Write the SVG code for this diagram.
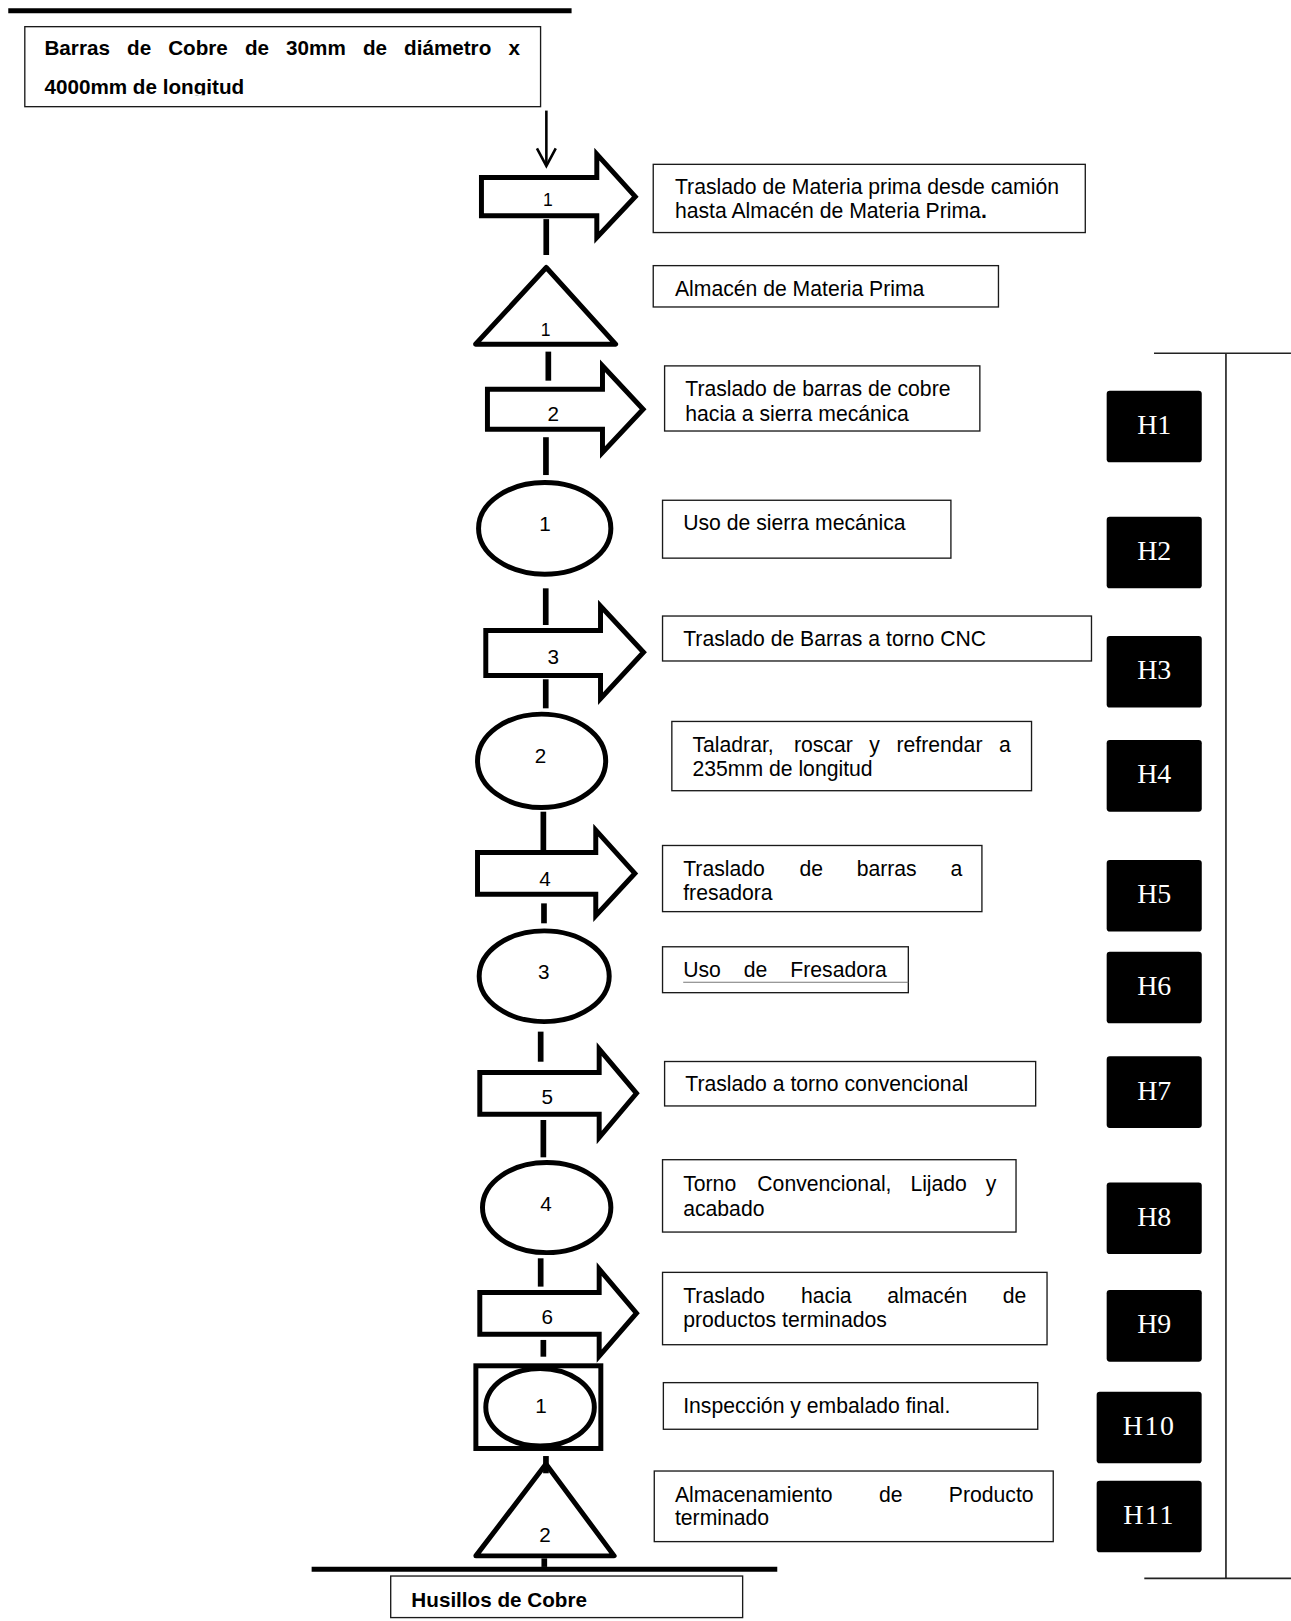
<svg xmlns="http://www.w3.org/2000/svg" width="1291" height="1621" viewBox="0 0 1291 1621">
  <style>
    .box{fill:#fff;stroke:#1a1a1a;stroke-width:1.3}
    .t{font-family:"Liberation Sans",Arial,sans-serif;font-size:20.5px;fill:#000}
    .b{font-weight:bold}
    .tb{font-family:"Liberation Sans",Arial,sans-serif;font-size:20px;font-weight:bold;fill:#000}
    .shape{fill:#fff;stroke:#000;stroke-width:4.8;stroke-linejoin:miter}
    .tri{fill:#fff;stroke:#000;stroke-width:4.8;stroke-linejoin:round}
    .num{font-family:"Liberation Sans",Arial,sans-serif;font-size:20px;text-anchor:middle;fill:#000}
    .sm{font-size:17px}
    .conn line{stroke:#000;stroke-width:5.5}
    .bar{stroke:#000;stroke-width:4.8}
    .bracket{stroke:#222;stroke-width:1.6}
    .h rect{fill:#000}
    .h text{font-family:"Liberation Serif","Times New Roman",serif;font-size:27px;fill:#fff;text-anchor:middle}
  </style>
  <defs>
    <clipPath id="titleClip"><rect x="24" y="25.8" width="499" height="66.4"/></clipPath>
  </defs>
  <rect width="1291" height="1621" fill="#fff"/>
  <g transform="scale(1.0336)">
    <!-- heavy horizontal bars -->
    <line class="bar" x1="8" y1="10.5" x2="553" y2="10.5"/>
    <line class="bar" x1="301.5" y1="1518.3" x2="752" y2="1518.3"/>

    <!-- input material box -->
    <g id="input">
      <rect class="box" x="24" y="25.8" width="499" height="77.4"/>
      <g clip-path="url(#titleClip)">
        <text class="tb" y="53.2"><tspan x="43">Barras</tspan><tspan x="122.9">de</tspan><tspan x="162.7">Cobre</tspan><tspan x="237">de</tspan><tspan x="276.8">30mm</tspan><tspan x="351.1">de</tspan><tspan x="390.9">diámetro</tspan><tspan x="491.9">x</tspan></text>
        <text class="tb" x="43" y="90.8">4000mm de longitud</text>
      </g>
    </g>

    <!-- process symbols -->
    <g id="arrow1"><path class="shape" d="M465.8,171.7 H577.4 V149.1 L614.6,190.3 L577.4,229.8 V208.8 H465.8 Z"/><text class="num sm" x="530" y="199.5">1</text></g>
    <g id="store1"><path class="tri" d="M528.5,258.8 L595.6,333 L460.1,333 Z"/><text class="num sm" x="528" y="325.5">1</text></g>
    <g id="arrow2"><path class="shape" d="M471.6,376.5 H582.9 V353.9 L622.2,396 L582.9,437.8 V415.2 H471.6 Z"/><text class="num" x="535.3" y="407">2</text></g>
    <g id="op1"><ellipse class="shape" cx="527" cy="511.2" rx="64" ry="44.3"/><text class="num" x="527.3" y="513.5">1</text></g>
    <g id="arrow3"><path class="shape" d="M470,610 H581 V586.4 L622.6,631 L581,676 V653.6 H470 Z"/><text class="num" x="535.3" y="642">3</text></g>
    <g id="op2"><ellipse class="shape" cx="524" cy="736.1" rx="62" ry="45.2"/><text class="num" x="523" y="738">2</text></g>
    <g id="arrow4"><path class="shape" d="M462,824.8 H576.4 V803.1 L614.2,845 L576.4,886 V865.1 H462 Z"/><text class="num" x="527.3" y="857">4</text></g>
    <g id="op3"><ellipse class="shape" cx="526.5" cy="944.5" rx="62.9" ry="43.9"/><text class="num" x="526" y="947.5">3</text></g>
    <g id="arrow5"><path class="shape" d="M464.2,1037.6 H579.7 V1015 L615.8,1057.8 L579.7,1100.5 V1078 H464.2 Z"/><text class="num" x="529.5" y="1068.5">5</text></g>
    <g id="op4"><ellipse class="shape" cx="528.9" cy="1168.3" rx="62.1" ry="43.6"/><text class="num" x="528.2" y="1171.5">4</text></g>
    <g id="arrow6"><path class="shape" d="M464.2,1250.4 H579.7 V1227.8 L615.8,1270.5 L579.7,1312 V1290.8 H464.2 Z"/><text class="num" x="529.5" y="1281">6</text></g>
    <g id="inspect1">
      <rect class="shape" x="460.4" y="1321.4" width="120.9" height="80"/>
      <ellipse class="shape" cx="522.5" cy="1361.5" rx="52.5" ry="37.5"/>
      <text class="num" x="523.4" y="1366.8">1</text>
    </g>
    <g id="store2"><path class="tri" d="M528.2,1416.5 L594.2,1505.3 L460.4,1505.3 Z"/><text class="num" x="527.3" y="1491.5">2</text></g>

    <!-- connectors between symbols -->
    <g id="connectors" class="conn">
      <line x1="528.6" y1="107" x2="528.6" y2="160" style="stroke-width:2.5"/>
      <polyline points="519.5,143.5 528.6,160.5 537.7,143.5" fill="none" stroke="#000" stroke-width="2.5"/>
      <line x1="528.5" y1="212" x2="528.5" y2="246.7"/>
      <line x1="530.5" y1="340.2" x2="530.5" y2="368.3"/>
      <line x1="528.2" y1="423" x2="528.2" y2="459.6"/>
      <line x1="528" y1="569.2" x2="528" y2="604.7"/>
      <line x1="528" y1="657.2" x2="528" y2="685.3"/>
      <line x1="525.7" y1="785.3" x2="525.7" y2="822.4"/>
      <line x1="526.3" y1="874" x2="526.3" y2="893.3"/>
      <line x1="523.1" y1="998.1" x2="523.1" y2="1027.2"/>
      <line x1="525.7" y1="1083.6" x2="525.7" y2="1119.7"/>
      <line x1="523.1" y1="1217.4" x2="523.1" y2="1244.8"/>
      <line x1="525.7" y1="1296.4" x2="525.7" y2="1312.6"/>
      <line x1="528.2" y1="1408.7" x2="528.2" y2="1425.4"/>
      <line x1="526.6" y1="1507.7" x2="526.6" y2="1516"/>
    </g>

    <!-- description boxes -->
    <g id="desc1"><rect class="box" x="632" y="159" width="418" height="66"/>
      <text class="t" x="653" y="188">Traslado de Materia prima desde camión</text>
      <text class="t" x="653" y="211">hasta Almacén de Materia Prima<tspan class="b">.</tspan></text></g>
    <g id="desc2"><rect class="box" x="632" y="257" width="334" height="40"/>
      <text class="t" x="653" y="286">Almacén de Materia Prima</text></g>
    <g id="desc3"><rect class="box" x="643" y="354" width="305" height="63"/>
      <text class="t" x="663" y="383">Traslado de barras de cobre</text>
      <text class="t" x="663" y="407">hacia a sierra mecánica</text></g>
    <g id="desc4"><rect class="box" x="641" y="484" width="279" height="56"/>
      <text class="t" x="661" y="513">Uso de sierra mecánica</text></g>
    <g id="desc5"><rect class="box" x="641" y="596" width="415" height="43.5"/>
      <text class="t" x="661" y="625">Traslado de Barras a torno CNC</text></g>
    <g id="desc6"><rect class="box" x="650" y="698" width="348" height="67"/>
      <text class="t" y="728"><tspan x="670">Taladrar,</tspan><tspan x="768.1">roscar</tspan><tspan x="841.1">y</tspan><tspan x="867.4">refrendar</tspan><tspan x="966.6">a</tspan></text>
      <text class="t" x="670" y="751">235mm de longitud</text></g>
    <g id="desc7"><rect class="box" x="641" y="818" width="309" height="64"/>
      <text class="t" y="848"><tspan x="661">Traslado</tspan><tspan x="773.4">de</tspan><tspan x="828.8">barras</tspan><tspan x="919.6">a</tspan></text>
      <text class="t" x="661" y="871">fresadora</text></g>
    <g id="desc8"><rect class="box" x="641" y="916" width="237.8" height="44.4"/>
      <text class="t" y="945.5"><tspan x="661">Uso</tspan><tspan x="719.6">de</tspan><tspan x="764.6">Fresadora</tspan></text>
      <line x1="661" y1="950.4" x2="878.8" y2="950.4" stroke="#777" stroke-width="1"/></g>
    <g id="desc9"><rect class="box" x="643" y="1027" width="359" height="43"/>
      <text class="t" x="663" y="1056">Traslado a torno convencional</text></g>
    <g id="desc10"><rect class="box" x="641" y="1122" width="342" height="70"/>
      <text class="t" y="1152"><tspan x="661">Torno</tspan><tspan x="732.7">Convencional,</tspan><tspan x="880.8">Lijado</tspan><tspan x="953.8">y</tspan></text>
      <text class="t" x="661" y="1176">acabado</text></g>
    <g id="desc11"><rect class="box" x="641" y="1231" width="372" height="70"/>
      <text class="t" y="1261"><tspan x="661">Traslado</tspan><tspan x="775">hacia</tspan><tspan x="858.4">almacén</tspan><tspan x="970.2">de</tspan></text>
      <text class="t" x="661" y="1284">productos terminados</text></g>
    <g id="desc12"><rect class="box" x="641.8" y="1337.7" width="362.2" height="45.1"/>
      <text class="t" x="661" y="1367.3">Inspección y embalado final.</text></g>
    <g id="desc13"><rect class="box" x="633" y="1423.2" width="386" height="68.3"/>
      <text class="t" y="1452.8"><tspan x="653">Almacenamiento</tspan><tspan x="850.4">de</tspan><tspan x="918">Producto</tspan></text>
      <text class="t" x="653" y="1475.4">terminado</text></g>
    <g id="output"><rect class="box" x="378" y="1524.8" width="340.5" height="40.2"/>
      <text class="tb" x="398" y="1554.4">Husillos de Cobre</text></g>

    <!-- bracket on the right -->
    <g id="bracket">
      <line class="bracket" x1="1116.5" y1="341.8" x2="1249" y2="341.8"/>
      <line class="bracket" x1="1186.1" y1="341.8" x2="1186.1" y2="1527"/>
      <line class="bracket" x1="1107.1" y1="1527" x2="1249" y2="1527"/>
    </g>

    <!-- step tags -->
    <g id="h1" class="h"><rect x="1070.7" y="378" width="92" height="69.3" rx="3"/><text x="1116.7" y="420">H1</text></g>
    <g id="h2" class="h"><rect x="1070.7" y="499.9" width="92" height="69.3" rx="3"/><text x="1116.7" y="541.8">H2</text></g>
    <g id="h3" class="h"><rect x="1070.7" y="615.3" width="92" height="69.3" rx="3"/><text x="1116.7" y="657.2">H3</text></g>
    <g id="h4" class="h"><rect x="1070.7" y="716" width="92" height="69.3" rx="3"/><text x="1116.7" y="758">H4</text></g>
    <g id="h5" class="h"><rect x="1070.7" y="832" width="92" height="69.3" rx="3"/><text x="1116.7" y="874">H5</text></g>
    <g id="h6" class="h"><rect x="1070.7" y="920.7" width="92" height="69.3" rx="3"/><text x="1116.7" y="962.6">H6</text></g>
    <g id="h7" class="h"><rect x="1070.7" y="1022" width="92" height="69.3" rx="3"/><text x="1116.7" y="1064">H7</text></g>
    <g id="h8" class="h"><rect x="1070.7" y="1144" width="92" height="69.3" rx="3"/><text x="1116.7" y="1186">H8</text></g>
    <g id="h9" class="h"><rect x="1070.7" y="1248.1" width="92" height="69.3" rx="3"/><text x="1116.7" y="1290">H9</text></g>
    <g id="h10" class="h"><rect x="1061" y="1346.4" width="101.6" height="69.3" rx="3"/><text x="1111.8" y="1388.4" letter-spacing="1.5">H10</text></g>
    <g id="h11" class="h"><rect x="1061" y="1432.5" width="101.6" height="69.3" rx="3"/><text x="1111.8" y="1474.5" letter-spacing="1.5">H11</text></g>
  </g>
</svg>
